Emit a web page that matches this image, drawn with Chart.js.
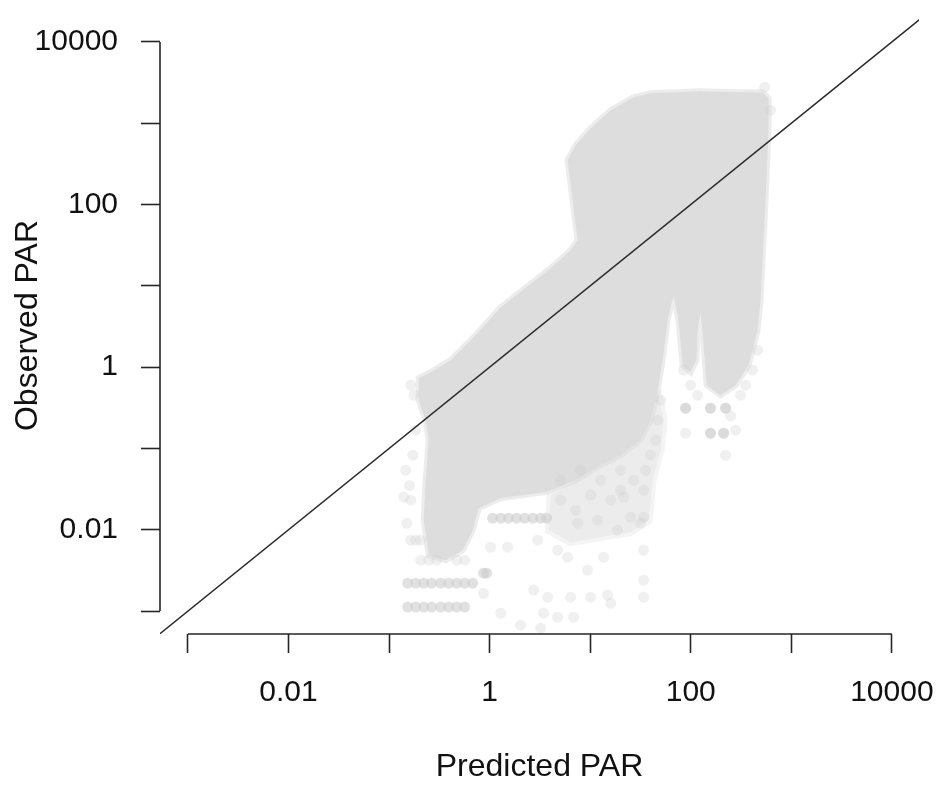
<!DOCTYPE html>
<html>
<head>
<meta charset="utf-8">
<script src="https://cdn.jsdelivr.net/npm/chart.js@4/dist/chart.umd.min.js"></script>
<style>
  body { margin: 0; background: #fff; }
  #plot { display: block; }
</style>
</head>
<body>
<canvas id="plot" width="938" height="786"></canvas>
<script>
// decade ticks shared by both log axes, labels on every other one
const tickValues = [0.001, 0.01, 0.1, 1, 10, 100, 1000, 10000];
const tickLabels = ['', '0.01', '', '1', '', '100', '', '10000'];
const xLimits = [0.000527, 18600];
const yLimits = [0.000522, 20300];

// 1:1 reference line
const refLineX = [0.0001, 100000];
const refLineY = [0.0001, 100000];

// outline of the dense part of the point cloud (predicted, observed)
const coreX = [27.0, 39.8, 125, 313, 517, 593, 593, 554, 517, 494, 461, 411, 376, 279, 198, 144,
  131, 125, 117, 114, 99.6, 82.9, 75.6, 67.5, 58.8, 52.5, 46.8, 39.8, 31.7, 20.0, 12.7, 7.16,
  3.60, 1.29, 0.778, 0.678, 0.539, 0.365, 0.248, 0.221, 0.231, 0.248, 0.231, 0.197, 0.197,
  0.259, 0.410, 0.693, 1.29, 4.04, 6.38, 7.50, 6.68, 5.96, 7.16, 10.1, 16.0, 27.0];
const coreY = [2094, 2345, 2480, 2410, 2410, 2036, 822, 113, 20.7, 6.67, 2.85, 1.62, 1.06, 0.601, 0.453, 0.601,
  2.85, 4.75, 2.85, 1.22, 0.868, 1.06, 3.78, 7.69, 3.78, 1.22, 0.521, 0.223, 0.127, 0.0827, 0.0623, 0.0407,
  0.0290, 0.0245, 0.0184, 0.00989, 0.00561, 0.00423, 0.00487, 0.0131, 0.0407, 0.127, 0.223, 0.393, 0.732,
  0.868, 1.22, 2.34, 5.47, 16.5, 27.5, 36.5, 113, 352, 538, 871, 1450, 2094];

// thinner zone of overlapping points below the core
const haloX = [46.8, 53.7, 50.1, 41.7, 38.1, 25.2, 12.7, 6.38, 3.86, 4.04, 7.16, 12.7, 20.0, 31.7, 39.8, 46.8];
const haloY = [0.521, 0.223, 0.0953, 0.0407, 0.0131, 0.00934, 0.00811, 0.00704, 0.00989, 0.0267,
  0.0407, 0.0623, 0.0827, 0.127, 0.223, 0.521];

// repeated values that show as darker rows of points
const rowX = [0.153, 0.184, 0.221, 0.265, 0.326, 0.391, 0.470, 0.564,
  0.153, 0.184, 0.221, 0.265, 0.326, 0.391, 0.470, 0.564, 0.678,
  0.871, 0.933, 1.07, 1.29, 1.54, 1.85, 2.23, 2.68, 3.21, 3.69,
  88.8, 157, 222, 157, 212];
const rowY = [0.00112, 0.00112, 0.00112, 0.00112, 0.00112, 0.00112, 0.00112, 0.00112,
  0.0022, 0.0022, 0.0022, 0.0022, 0.0022, 0.0022, 0.0022, 0.0022, 0.0022,
  0.00292, 0.00292, 0.0139, 0.0139, 0.0139, 0.0139, 0.0139, 0.0139, 0.0139, 0.0139,
  0.313, 0.313, 0.313, 0.154, 0.154];

// scattered single points around the edge of the cloud
const sparseX = [0.206, 0.248, 0.297, 0.470, 0.564, 0.164, 0.184, 0.206,
  0.140, 0.146, 0.164, 0.172, 0.184, 0.164, 0.177, 0.150, 0.160,
  1.29, 3.44, 4.74, 2.74, 3.77, 6.38, 10.1, 14.9,
  1.02, 1.51, 3.00, 4.74, 5.96, 9.42, 13.6, 18.7, 11.8, 7.50, 21.5, 25.2, 31.7, 34.0, 34.0, 34.0, 34.0,
  2.03, 3.21, 6.84, 16.0, 0.871,
  5.08, 8.03, 12.7, 20.0, 10.1, 16.0, 5.08, 7.16, 27.0, 35.5, 39.8, 44.7, 46.8, 50.1, 34.0, 20.0,
  84.8, 88.8, 88.8, 157, 222, 157, 212, 222, 313, 351, 411, 461, 279, 117, 99.6, 250,
  542, 621];
const sparseY = [0.00423, 0.00423, 0.00423, 0.00423, 0.00423, 0.00745, 0.00745, 0.00745,
  0.0252, 0.0541, 0.0231, 0.0827, 0.168, 0.601, 0.453, 0.0120, 0.0350,
  0.000942, 0.000942, 0.000841, 0.00181, 0.00148, 0.00148, 0.00148, 0.00157,
  0.00611, 0.00611, 0.00745, 0.00561, 0.00460, 0.00318, 0.00460, 0.00989, 0.0131, 0.0121, 0.0252, 0.0143, 0.0121, 0.00561, 0.00240, 0.00148, 0.0143,
  0.000671, 0.000616, 0.000841, 0.00125, 0.00165,
  0.0407, 0.0541, 0.0407, 0.0541, 0.0267, 0.0231, 0.0231, 0.0174, 0.0407, 0.0541, 0.0827, 0.127, 0.223, 0.393, 0.0307, 0.0307,
  0.918, 0.313, 0.154, 0.313, 0.313, 0.154, 0.154, 0.0827, 0.453, 0.601, 0.918, 1.62, 0.168, 0.453, 0.600, 0.250,
  2780, 1450];

const toPoints = (xs, ys) => xs.map((v, i) => ({x: v, y: ys[i]}));

const axisColor = '#262626';
const textColor = '#111';
const fontFamily = '"Liberation Sans", Arial, sans-serif';

// R style axis line that only runs from first to last tick
const axisLines = {
    id: 'axisLines',
    afterDraw(chart) {
        const {ctx, chartArea, scales} = chart;
        const first = tickValues[0];
        const last = tickValues[tickValues.length - 1];
        ctx.save();
        ctx.strokeStyle = axisColor;
        ctx.lineWidth = 1.6;
        ctx.beginPath();
        ctx.moveTo(scales.x.getPixelForValue(first), chartArea.bottom);
        ctx.lineTo(scales.x.getPixelForValue(last), chartArea.bottom);
        ctx.moveTo(chartArea.left, scales.y.getPixelForValue(first));
        ctx.lineTo(chartArea.left, scales.y.getPixelForValue(last));
        ctx.stroke();
        ctx.restore();
    }
};

function logAxis(titleText, limits, setSize) {
    return {
        type: 'logarithmic',
        min: limits[0],
        max: limits[1],
        bounds: 'data',
        afterBuildTicks: (scale) => {
            scale.ticks = tickValues.map(v => ({value: v}));
        },
        afterFit: (scale) => {
            setSize(scale);
            // labels may hang over the plot edges, as in R
            scale.paddingLeft = 0;
            scale.paddingRight = 0;
            scale.paddingTop = 0;
            scale.paddingBottom = 0;
        },
        border: { display: false },
        grid: {
            drawOnChartArea: false,
            drawTicks: true,
            tickLength: 19,
            tickWidth: 1.6,
            tickColor: axisColor
        },
        ticks: {
            autoSkip: false,
            maxRotation: 0,
            color: textColor,
            font: { family: fontFamily, size: 30 },
            callback: (value, index) => tickLabels[index]
        },
        title: {
            display: true,
            text: titleText,
            color: textColor,
            font: { family: fontFamily, size: 32, lineHeight: 1.2 },
            padding: { top: 0, bottom: 0 }
        }
    };
}

const xAxis = logAxis('Predicted PAR', xLimits, (scale) => { scale.height = 152; });
xAxis.position = 'bottom';
xAxis.ticks.padding = 22;

const yAxis = logAxis('Observed PAR', yLimits, (scale) => { scale.width = 160; });
yAxis.position = 'left';
yAxis.ticks.padding = 23;
yAxis.title.padding = { top: 9, bottom: 0 };

new Chart(document.getElementById('plot'), {
    type: 'scatter',
    data: {
        datasets: [
            {
                type: 'line',
                label: '1:1',
                data: toPoints(refLineX, refLineY),
                borderColor: '#2b2b2b',
                borderWidth: 1.5,
                pointRadius: 0,
                fill: false,
                order: 0
            },
            {
                label: 'rows',
                data: toPoints(rowX, rowY),
                pointRadius: 5.5,
                pointBackgroundColor: 'rgba(205, 205, 205, 0.6)',
                pointBorderWidth: 0,
                order: 1
            },
            {
                label: 'sparse',
                data: toPoints(sparseX, sparseY),
                pointRadius: 5.5,
                pointBackgroundColor: 'rgba(205, 205, 205, 0.3)',
                pointBorderWidth: 0,
                order: 2
            },
            {
                type: 'line',
                label: 'core',
                data: toPoints(coreX, coreY),
                borderColor: 'rgba(221, 221, 221, 0.55)',
                borderWidth: 6,
                backgroundColor: '#dddddd',
                pointRadius: 0,
                fill: 'shape',
                order: 3
            },
            {
                type: 'line',
                label: 'halo',
                data: toPoints(haloX, haloY),
                borderColor: 'rgba(236, 236, 236, 0.6)',
                borderWidth: 8,
                backgroundColor: '#ececec',
                pointRadius: 0,
                fill: 'shape',
                order: 4
            }
        ]
    },
    options: {
        responsive: false,
        animation: false,
        layout: { padding: { top: 17, right: 19, bottom: 0, left: 0 } },
        plugins: {
            legend: { display: false },
            tooltip: { enabled: false }
        },
        scales: {
            x: xAxis,
            y: yAxis
        }
    },
    plugins: [axisLines]
});
</script>
</body>
</html>
